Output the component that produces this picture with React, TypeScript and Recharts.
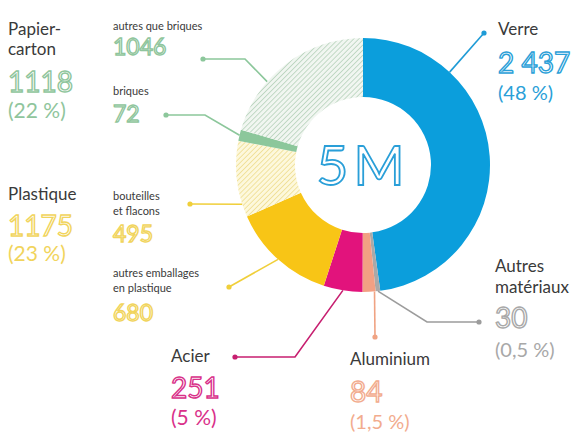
import React from 'react';
import { PieChart, Pie, Cell } from 'recharts';

// tonnages (milliers de tonnes), clockwise from 12 o'clock
const materials = [
  'Verre',
  'Autres matériaux',
  'Aluminium',
  'Acier',
  'autres emballages en plastique',
  'bouteilles et flacons',
  'briques',
  'autres que briques',
];
const tonnages = [2437, 30, 84, 251, 680, 495, 72, 1046];
const shareLabels = ['48 %', '0,5 %', '1,5 %', '5 %'];
const groupShareLabels = ['22 %', '23 %']; // papier-carton, plastique
const totalLabel = '5M';

const pieData = materials.map((name, i) => ({ name, value: tonnages[i] }));

const sliceFills = ['#0b9edc', '#a9a9a9', '#f2a083', '#e2137c', '#f8c516', 'url(#hatchYellow)', '#8cc79b', 'url(#hatchGreen)'];
const leaderColors = ['#1e9bd6', '#9c9c9c', '#f0a383', '#c71f70', '#f0cf3a', '#f0cf3a', '#8cc79b', '#8cc79b'];

const BLUE = '#2a9fd8';
const GREEN = '#8fc59c';
const YELLOW = '#f1d45c';
const PINK = '#d9318a';
const SALMON = '#f2ac8e';
const GREY = '#a8a8a8';
const DARK = '#3a3a3a';
const FONT = 'Lato, "Open Sans", sans-serif';

const RAD = Math.PI / 180;

// where each leader line goes (angle: clockwise from top, default = slice middle)
const leaders: { dot: number[]; elbow?: number[]; angle?: number }[] = [
  { dot: [484, 33], angle: 43 },
  { dot: [479, 322], elbow: [427, 322] },
  { dot: [375, 337], angle: 174.8 },
  { dot: [235, 357], elbow: [295, 357] },
  { dot: [229, 287] },
  { dot: [190, 204], angle: 252 },
  { dot: [166, 115], elbow: [205, 115] },
  { dot: [203, 59], elbow: [245, 59], angle: 311 },
];

const renderLeader = (props: any) => {
  const { cx, cy, midAngle, outerRadius, index } = props;
  const l = leaders[index];
  const a = l.angle ?? 90 - midAngle;
  const ex = cx + outerRadius * Math.sin(a * RAD);
  const ey = cy - outerRadius * Math.cos(a * RAD);
  const pts = [[ex, ey], ...(l.elbow ? [l.elbow] : []), l.dot].map((p) => p.join(',')).join(' ');
  const c = leaderColors[index];
  return (
    <g key={`leader-${index}`}>
      <polyline points={pts} fill="none" stroke={c} strokeWidth={1.6} />
      <circle cx={l.dot[0]} cy={l.dot[1]} r={2.6} fill={c} />
    </g>
  );
};

const Num = ({ x, y, size = 28, color, children, anchor }: any) => (
  <text
    x={x}
    y={y}
    fontSize={size}
    fontFamily={FONT}
    fill="#fff"
    stroke={color}
    strokeWidth={1.4}
    textAnchor={anchor}
  >
    {children}
  </text>
);

const Txt = ({ x, y, size = 17, color = DARK, children }: any) => (
  <text x={x} y={y} fontSize={size} fontFamily={FONT} fill={color}>
    {children}
  </text>
);

const fmt = (v: number, grouped = false) =>
  grouped && v >= 1000 ? `${Math.floor(v / 1000)} ${String(v % 1000).padStart(3, '0')}` : String(v);

export default function App() {
  const papier = tonnages[6] + tonnages[7];
  const plastique = tonnages[4] + tonnages[5];
  return (
    <div style={{ position: 'relative', width: 585, height: 432, background: '#fff', overflow: 'hidden' }}>
      <style>{'body{margin:0}'}</style>
      <svg width={0} height={0} style={{ position: 'absolute' }}>
        <defs>
          <pattern id="hatchGreen" patternUnits="userSpaceOnUse" width={3.6} height={3.6} patternTransform="rotate(45)">
            <rect width={3.6} height={3.6} fill="#f1f6f1" />
            <line x1={0} y1={0} x2={0} y2={3.6} stroke="#a9caae" strokeWidth={1.3} />
          </pattern>
          <pattern id="hatchYellow" patternUnits="userSpaceOnUse" width={3.6} height={3.6} patternTransform="rotate(45)">
            <rect width={3.6} height={3.6} fill="#fdf8dc" />
            <line x1={0} y1={0} x2={0} y2={3.6} stroke="#ecd77e" strokeWidth={1.3} />
          </pattern>
        </defs>
      </svg>
      <PieChart width={585} height={432} margin={{ top: 0, right: 0, bottom: 0, left: 0 }}>
        <Pie
          data={pieData}
          dataKey="value"
          nameKey="name"
          cx={363}
          cy={165}
          innerRadius={68}
          outerRadius={127}
          startAngle={90}
          endAngle={-270}
          stroke="none"
          label={renderLeader}
          labelLine={false}
          isAnimationActive={false}
        >
          {pieData.map((d, i) => (
            <Cell key={d.name} fill={sliceFills[i]} stroke="none" />
          ))}
        </Pie>
      </PieChart>
      <svg width={585} height={432} style={{ position: 'absolute', left: 0, top: 0, pointerEvents: 'none' }}>
        {/* centre */}
        <text x={363} y={185} fontSize={55} fontFamily={FONT} fill="#fff" stroke={BLUE} strokeWidth={1.8} textAnchor="middle" letterSpacing={5}>
          {totalLabel}
        </text>

        {/* Papier-carton */}
        <Txt x={8} y={35}>Papier-</Txt>
        <Txt x={8} y={55}>carton</Txt>
        <Num x={8} y={92} color={GREEN}>{fmt(papier)}</Num>
        <Txt x={8} y={118} size={21} color={GREEN}>({groupShareLabels[0]})</Txt>
        <Txt x={113} y={30} size={11}>{materials[7]}</Txt>
        <Num x={113} y={55} size={23} color={GREEN}>{fmt(tonnages[7])}</Num>
        <Txt x={113} y={95} size={11}>{materials[6]}</Txt>
        <Num x={113} y={122} size={23} color={GREEN}>{fmt(tonnages[6])}</Num>

        {/* Plastique */}
        <Txt x={8} y={200}>Plastique</Txt>
        <Num x={8} y={236} color={YELLOW}>{fmt(plastique)}</Num>
        <Txt x={8} y={261} size={21} color={YELLOW}>({groupShareLabels[1]})</Txt>
        <Txt x={113} y={200} size={11}>bouteilles</Txt>
        <Txt x={113} y={215} size={11}>et flacons</Txt>
        <Num x={113} y={242} size={23} color={YELLOW}>{fmt(tonnages[5])}</Num>
        <Txt x={113} y={277} size={11}>autres emballages</Txt>
        <Txt x={113} y={292} size={11}>en plastique</Txt>
        <Num x={113} y={321} size={23} color={YELLOW}>{fmt(tonnages[4])}</Num>

        {/* Verre */}
        <Txt x={498} y={35}>{materials[0]}</Txt>
        <Num x={498} y={73} color={BLUE}>{fmt(tonnages[0], true)}</Num>
        <Txt x={498} y={100} size={20} color={BLUE}>({shareLabels[0]})</Txt>

        {/* Autres matériaux */}
        <Txt x={495} y={272}>Autres</Txt>
        <Txt x={495} y={293}>matériaux</Txt>
        <Num x={495} y={328} color={GREY}>{fmt(tonnages[1])}</Num>
        <Txt x={495} y={357} size={20} color={GREY}>({shareLabels[1]})</Txt>

        {/* Aluminium */}
        <Txt x={350} y={365}>{materials[2]}</Txt>
        <Num x={350} y={402} color={SALMON}>{fmt(tonnages[2])}</Num>
        <Txt x={350} y={429} size={20} color={SALMON}>({shareLabels[2]})</Txt>

        {/* Acier */}
        <Txt x={171} y={362}>{materials[3]}</Txt>
        <Num x={171} y={398} color={PINK}>{fmt(tonnages[3])}</Num>
        <Txt x={171} y={425} size={21} color={PINK}>({shareLabels[3]})</Txt>
      </svg>
    </div>
  );
}
